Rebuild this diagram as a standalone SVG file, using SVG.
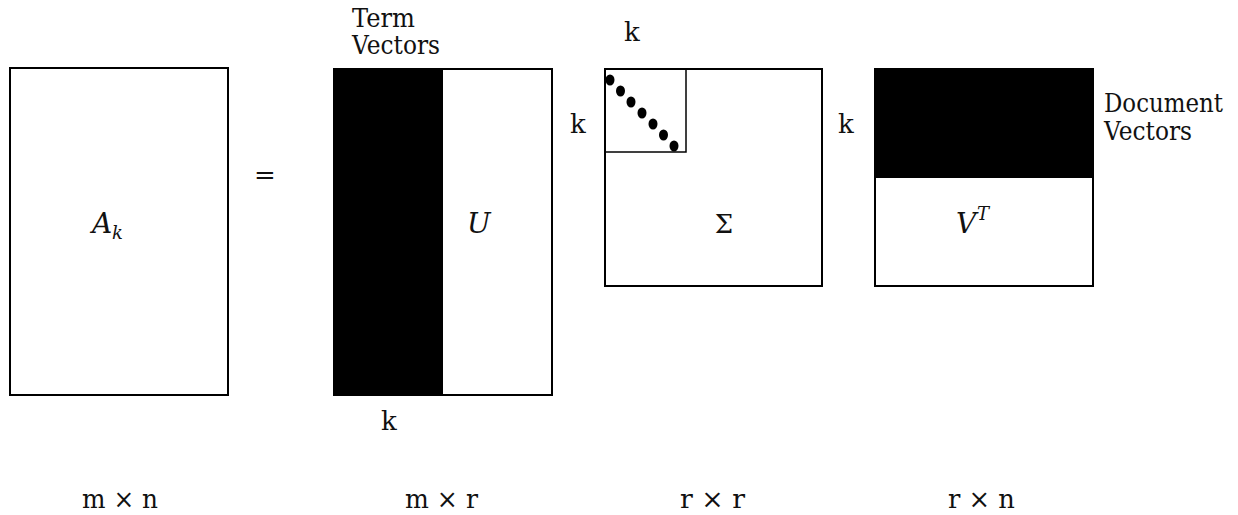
<svg xmlns="http://www.w3.org/2000/svg" width="1238" height="515" viewBox="0 0 1238 515">
<style>
.box{fill:#fff;stroke:#000;stroke-width:2}
.blk{fill:#000;stroke:none}
.thin{fill:none;stroke:#000;stroke-width:1.5}
text{font-family:'DejaVu Serif','Liberation Serif','Times New Roman',serif;fill:#111}
.t{font-size:26px}
.m{font-size:28px;font-style:italic}
.s{font-size:18px;font-style:italic}
</style>
<rect width="1238" height="515" fill="#fff"/>
<g id="A">
<rect class="box" x="10" y="68" width="218" height="327"/>
<text class="m" x="92" y="233">A</text><text class="s" x="112" y="239">k</text>
<text class="t" x="82" y="508" textLength="76" lengthAdjust="spacingAndGlyphs">m × n</text>
</g>
<g id="eq">
<text class="t" x="265" y="184" text-anchor="middle" font-size="44">=</text>
</g>
<g id="U">
<rect class="box" x="334" y="69" width="218" height="326"/>
<rect class="blk" x="333" y="68" width="110" height="328"/>
<text class="t" x="352" y="27" textLength="63" lengthAdjust="spacingAndGlyphs">Term</text>
<text class="t" x="352" y="54" textLength="88" lengthAdjust="spacingAndGlyphs">Vectors</text>
<text class="m" x="467" y="233">U</text>
<text class="t" x="389" y="430" text-anchor="middle">k</text>
<text class="t" x="405" y="508" textLength="73" lengthAdjust="spacingAndGlyphs">m × r</text>
</g>
<g id="Sigma">
<rect class="box" x="605" y="69" width="217" height="217"/>
<rect class="thin" x="605" y="69" width="81" height="83"/>
<g fill="#000">
<ellipse cx="610" cy="80" rx="4.5" ry="5.5"/>
<ellipse cx="620.5" cy="91" rx="4.5" ry="5.5"/>
<ellipse cx="631" cy="102" rx="4.5" ry="5.5"/>
<ellipse cx="642" cy="113" rx="4.5" ry="5.5"/>
<ellipse cx="653" cy="124" rx="4.5" ry="5.5"/>
<ellipse cx="663.5" cy="135" rx="4.5" ry="5.5"/>
<ellipse cx="674" cy="146" rx="4.5" ry="5.5"/>
</g>
<text class="t" x="632" y="41" text-anchor="middle">k</text>
<text class="t" x="578" y="133" text-anchor="middle">k</text>
<text class="t" x="724" y="233" text-anchor="middle">Σ</text>
<text class="t" x="680" y="508" textLength="65" lengthAdjust="spacingAndGlyphs">r × r</text>
</g>
<g id="V">
<rect class="box" x="875" y="69" width="218" height="217"/>
<rect class="blk" x="874" y="68" width="220" height="110"/>
<text class="t" x="846" y="133" text-anchor="middle">k</text>
<text class="m" x="956" y="233">V</text><text class="s" x="977" y="220">T</text>
<text class="t" x="1104" y="112" textLength="119" lengthAdjust="spacingAndGlyphs">Document</text>
<text class="t" x="1104" y="140" textLength="88" lengthAdjust="spacingAndGlyphs">Vectors</text>
<text class="t" x="948" y="508" textLength="67" lengthAdjust="spacingAndGlyphs">r × n</text>
</g>
<g id="connectors"></g>
</svg>
